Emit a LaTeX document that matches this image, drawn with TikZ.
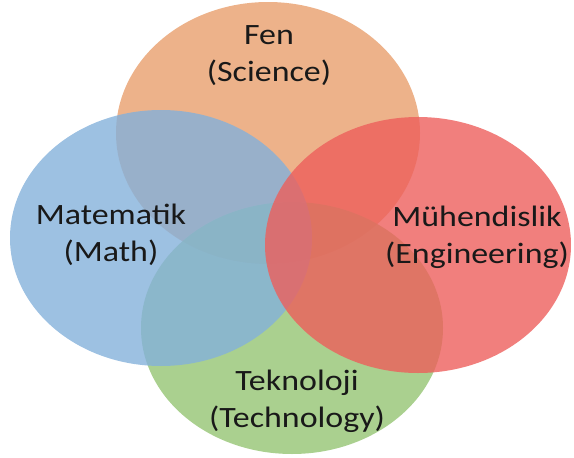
\documentclass[tikz,border=0pt]{standalone}
\usepackage{fontspec}
\setmainfont{Carlito}
\definecolor{fenorange}{RGB}{232,159,109}
\definecolor{mathblue}{RGB}{132,177,219}
\definecolor{engred}{RGB}{237,95,92}
\definecolor{techgreen}{RGB}{149,196,115}
\tikzset{
	venn/.style={fill opacity=.8},
	subject/.style={align=center, text=black!90, font=\fontsize{29.5}{37}\selectfont, xscale=1.15, transform shape, inner sep=0pt}
}

\begin{document}
\begin{tikzpicture}[x=1pt, y=-1pt]
	\useasboundingbox (0,0) rectangle (574,458);
		\fill[venn, fenorange] (268,133) ellipse (152 and 131);
		\fill[venn, techgreen] (292,328) ellipse (151 and 126);
		\fill[venn, mathblue] (161,238) ellipse (151 and 128);
		\fill[venn, engred] (418,245) ellipse (153 and 128);
	\node[subject] (fen) at (269,56) {Fen\\(Science)};
	\node[subject] (matematik) at (111,235) {Matematik\\(Math)};
	\node[subject] (muhendislik) at (477,237) {Mühendislik\\(Engineering)};
	\node[subject] (teknoloji) at (297,401) {Teknoloji\\(Technology)};
\end{tikzpicture}
\end{document}
